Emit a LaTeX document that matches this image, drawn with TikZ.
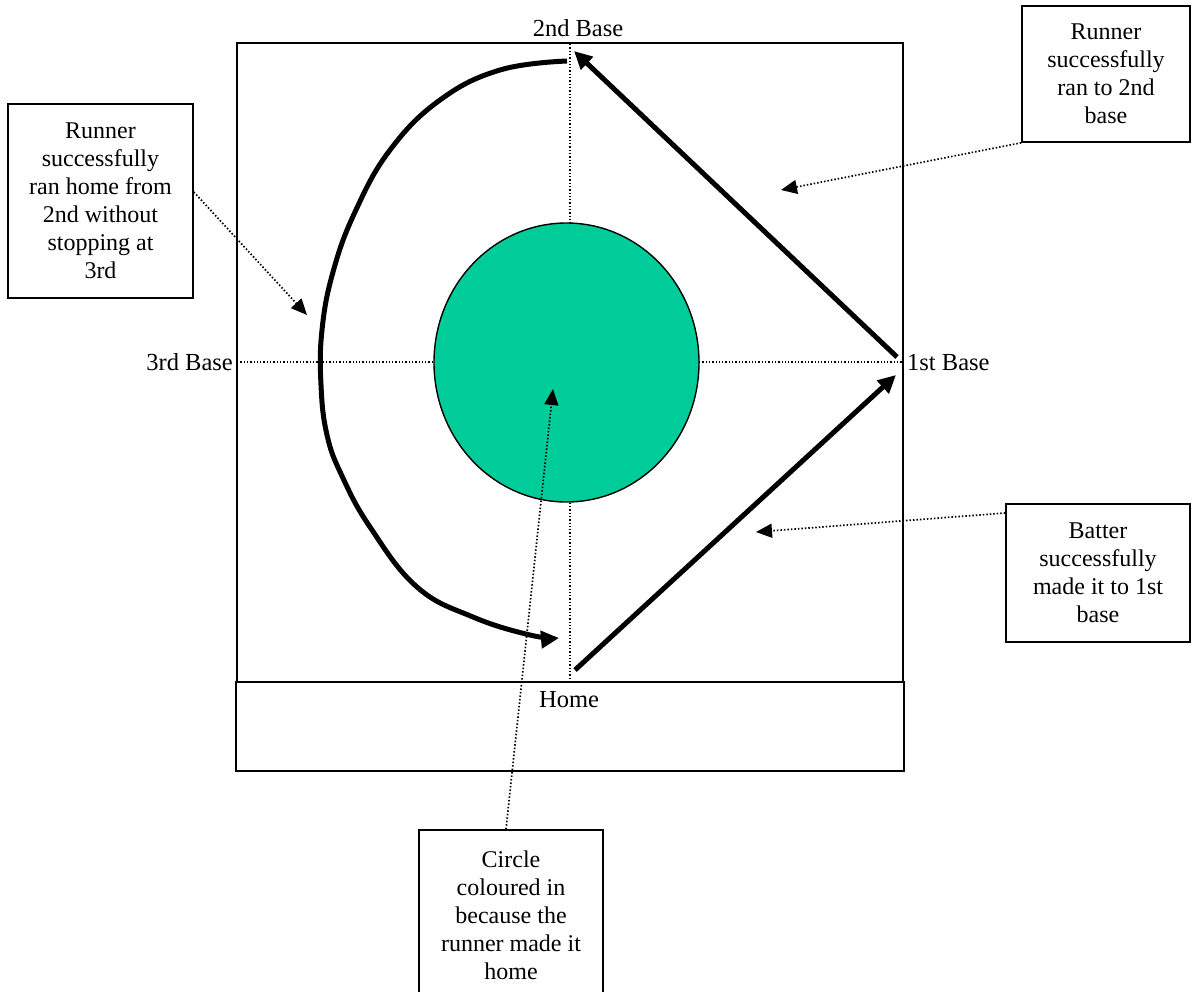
\documentclass[tikz,border=0pt]{standalone}
\usepackage{fontspec}
\setmainfont{Liberation Serif}
\usetikzlibrary{arrows.meta,shapes.geometric}
\definecolor{fieldgreen}{RGB}{0,204,153}
\tikzset{
  txt/.style={font=\fontsize{24.5}{28}\selectfont, inner sep=0pt},
  notebox/.style={draw, line width=1.6pt, fill=white, align=center, font=\fontsize{24}{28}\selectfont, inner sep=0pt},
  pointer/.style={line width=1.7pt, dash pattern=on 1.5pt off 2pt, -{Triangle[length=16pt,width=14pt]}},
  guide/.style={line width=1.4pt, dash pattern=on 1.3pt off 2pt},
  runpath/.style={line width=5pt, -{Triangle[length=18pt,width=17pt]}}
}
\begin{document}
\begin{tikzpicture}[x=1pt,y=-1pt]
\clip (0,0) rectangle (1193,991);
\fill[white] (0,0) rectangle (1193,991);
% field square
\node[draw, line width=1.6pt, minimum width=666pt, minimum height=639pt, inner sep=0pt] (field) at (570,362.5) {};
% base coordinates
\coordinate (b2top) at (570,44);
\coordinate (bhome) at (570,682);
\coordinate (b3) at (237,362);
\coordinate (b1) at (903,362);
\draw[guide] (b2top) -- (bhome);
\draw[guide] (b3) -- (b1);
% circle
\node[ellipse, draw, line width=1.4pt, fill=fieldgreen, minimum width=265pt, minimum height=279pt, inner sep=0pt] (circ) at (566.5,362.5) {};
% home box
\node[draw, line width=1.6pt, fill=white, minimum width=668pt, minimum height=89pt, inner sep=0pt] (homebox) at (570,726.5) {};
% labels
\node[txt, anchor=base] (l2) at (578,36) {2nd Base};
\node[txt, anchor=base east] (l3) at (233,370) {3rd Base};
\node[txt, anchor=base west] (l1) at (907,370) {1st Base};
\node[txt, anchor=base] (lh) at (569,707) {Home};
% running paths
\coordinate (s1) at (897,357);
\coordinate (t2) at (574,51);
\coordinate (sh) at (575,670);
\coordinate (t1) at (896,375);
\draw[runpath] (s1) -- (t2);
\draw[runpath] (sh) -- (t1);
\draw[runpath] plot[smooth, tension=0.7] coordinates {(567,61) (500,70) (440,100) (390,150) (355,212) (333,272) (322,330) (321,385) (327,435) (342,476) (370,527) (417,587) (473,617) (530,635) (559,638)};
% note boxes
\node[notebox, minimum width=185pt, minimum height=194pt] (nleft) at (100.5,201) {Runner\\successfully\\ran home from\\2nd without\\stopping at\\3rd};
\node[notebox, minimum width=168pt, minimum height=136pt] (ntop) at (1106,74) {Runner\\successfully\\ran to 2nd\\base};
\node[notebox, minimum width=184pt, minimum height=138pt] (nright) at (1098,573) {Batter\\successfully\\made it to 1st\\base};
\node[notebox, minimum width=184pt, minimum height=170pt] (nbottom) at (511,915) {Circle\\coloured in\\because the\\runner made it\\home};
% pointer targets
\coordinate (p1) at (307,315);
\coordinate (p2) at (781,190);
\coordinate (p3) at (756,532);
\coordinate (p4) at (553,389);
\draw[pointer] (nleft.east |- 0,192) -- (p1);
\draw[pointer] (ntop.south west) -- (p2);
\draw[pointer] (nright.west |- 0,513) -- (p3);
\draw[pointer] (nbottom.north west -| 506,0) -- (p4);
\end{tikzpicture}
\end{document}
